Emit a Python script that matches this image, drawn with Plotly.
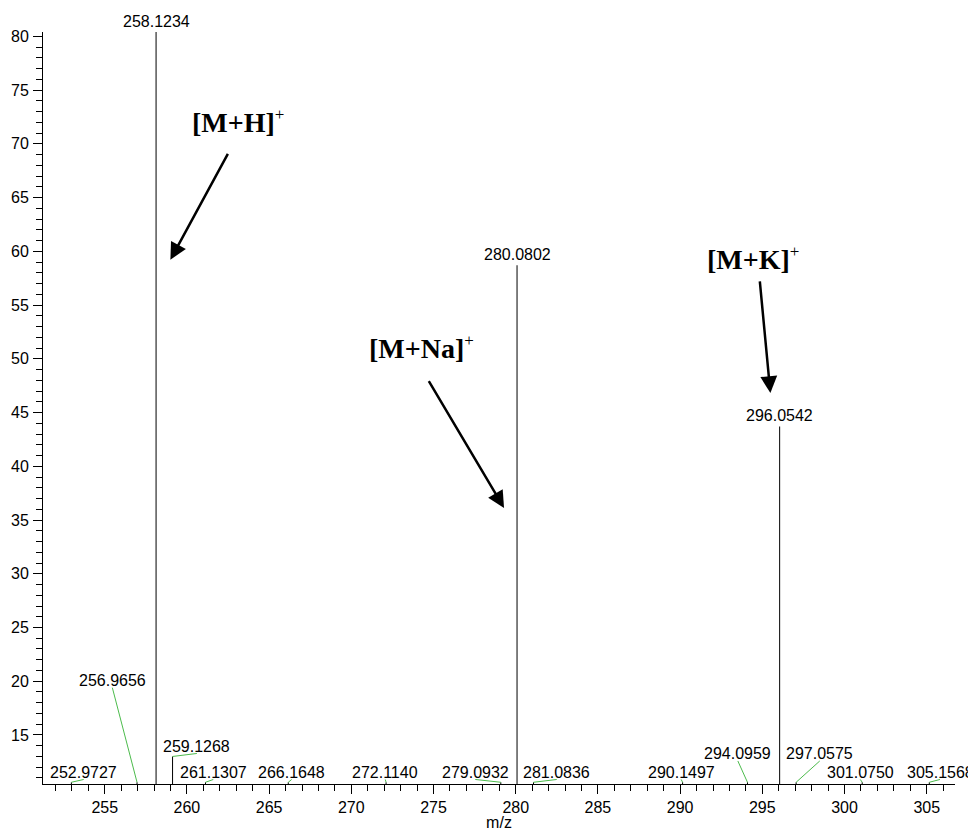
import plotly.graph_objects as go

# ---------------- data ----------------
peak_mz = [252.9727, 256.9656, 258.1234, 259.1268, 261.1307, 266.1648, 272.1140,
           279.0932, 280.0802, 281.0836, 290.1497, 294.0959, 296.0542, 297.0575,
           301.0750, 305.1568]
peak_intensity = [10.6, 10.6, 100.0, 13.0, 10.6, 10.6, 10.6,
                  10.6, 58.7, 10.6, 10.6, 10.6, 43.7, 10.6,
                  10.6, 10.6]
peak_labels = [f"{m:.4f}" for m in peak_mz]

ion_names = ["[M+H]", "[M+Na]", "[M+K]"]
ion_charge = ["+", "+", "+"]

x_tick_vals = [255, 260, 265, 270, 275, 280, 285, 290, 295, 300, 305]
y_tick_vals = [15, 20, 25, 30, 35, 40, 45, 50, 55, 60, 65, 70, 75, 80]
x_title = "m/z"

# ---------------- layout constants ----------------
# the page body adds an 8px offset, so the figure is sized/marginated to compensate
W, H = 968, 823
ML, MR, MT, MB = 35, 21, 24, 47
X_RANGE = [251.246, 306.72]
Y_RANGE = [10.44, 80.4]
SX = (W - ML - MR) / (X_RANGE[1] - X_RANGE[0])   # px per m/z unit
SY = (H - MT - MB) / (Y_RANGE[1] - Y_RANGE[0])   # px per intensity unit

# label offsets in pixels (dx, dy) from the peak tip to the label centre
label_offsets = [(12.3, -9.8), (-24.7, -101.6), (0, -11), (24.3, -10), (7.8, -9.8),
                 (3.4, -9.8), (-0.8, -9.8), (-25.5, -9.8), (0, -10.5), (23.2, -9.8),
                 (-1.4, -9.8), (-9.6, -28.3), (0, -10.5), (23.6, -28.3),
                 (-1.9, -9.8), (10.7, -9.8)]
LEADER_DROP = 7  # px below label centre where leader ends

# ion annotation placement (text left/centre in data units) and arrows (tail -> tip)
ion_text_pos = [(260.19, 72.05), (270.94, 51.03), (291.52, 59.37)]
ion_arrow_tail = [(262.54, 69.2), (274.66, 48.05), (294.84, 57.35)]
ion_arrow_tip = [(258.995, 59.21), (279.29, 36.12), (295.49, 46.81)]

# ---------------- figure ----------------
fig = go.Figure()

# sticks
sx, sy = [], []
for m, i in zip(peak_mz, peak_intensity):
    sx += [m, m, None]
    sy += [0, i, None]
fig.add_trace(go.Scatter(x=sx, y=sy, mode="lines",
                         line=dict(color="black", width=1),
                         hoverinfo="skip", showlegend=False))

# leader lines (green) from peak tip to label
lx, ly = [], []
for m, i, (dx, dy) in zip(peak_mz, peak_intensity, label_offsets):
    if i > Y_RANGE[1] or dx == 0:
        continue
    lx += [m, m + dx / SX, None]
    ly += [i, i - (dy + LEADER_DROP) / SY, None]
fig.add_trace(go.Scatter(x=lx, y=ly, mode="lines",
                         line=dict(color="#4cbb4c", width=1),
                         hoverinfo="skip", showlegend=False, cliponaxis=False))

annotations = []
for m, i, lab, (dx, dy) in zip(peak_mz, peak_intensity, peak_labels, label_offsets):
    annotations.append(dict(
        x=m, y=min(i, Y_RANGE[1]), xref="x", yref="y",
        text=lab, showarrow=False, xanchor="center", yanchor="middle",
        xshift=dx, yshift=-dy,
        font=dict(family="Liberation Sans, Arial", size=16, color="black")))

for name, ch, (tx, ty) in zip(ion_names, ion_charge, ion_text_pos):
    annotations.append(dict(
        x=tx, y=ty, xref="x", yref="y",
        text=f"<b>{name}</b><sup><span style='font-size:17px;color:black'>{ch}</span></sup>",
        showarrow=False, xanchor="left", yanchor="middle",
        font=dict(family="Liberation Serif, Times New Roman", size=28, color="black")))

for (ax_, ay_), (x_, y_) in zip(ion_arrow_tail, ion_arrow_tip):
    annotations.append(dict(
        x=x_, y=y_, xref="x", yref="y", ax=ax_, ay=ay_, axref="x", ayref="y",
        text="", showarrow=True, arrowhead=2, arrowsize=1.35, arrowwidth=2.5,
        arrowcolor="black", standoff=0, startstandoff=0))

fig.update_layout(
    width=W, height=H,
    margin=dict(l=ML, r=MR, t=MT, b=MB, pad=0, autoexpand=False),
    paper_bgcolor="white", plot_bgcolor="white",
    font=dict(family="Liberation Sans, Arial", size=16, color="black"),
    annotations=annotations,
    showlegend=False,
    xaxis=dict(range=X_RANGE, tickvals=x_tick_vals, ticks="outside", ticklen=9,
               tickwidth=1, tickcolor="black", showline=True, linecolor="black",
               linewidth=1, showgrid=False, zeroline=False, automargin=False,
               minor=dict(dtick=1, tick0=0, ticks="outside", ticklen=6,
                          tickcolor="black", tickwidth=1, showgrid=False),
               title=dict(text=x_title, standoff=4, font=dict(size=16)),
               tickfont=dict(size=16)),
    yaxis=dict(range=Y_RANGE, tickvals=y_tick_vals, ticks="outside", ticklen=9,
               tickwidth=1, tickcolor="black", showline=True, linecolor="black",
               linewidth=1, showgrid=False, zeroline=False, automargin=False,
               minor=dict(dtick=1, tick0=0, ticks="outside", ticklen=6,
                          tickcolor="black", tickwidth=1, showgrid=False),
               tickfont=dict(size=16), ticklabelstandoff=1),
)

fig.write_html("out.html")
